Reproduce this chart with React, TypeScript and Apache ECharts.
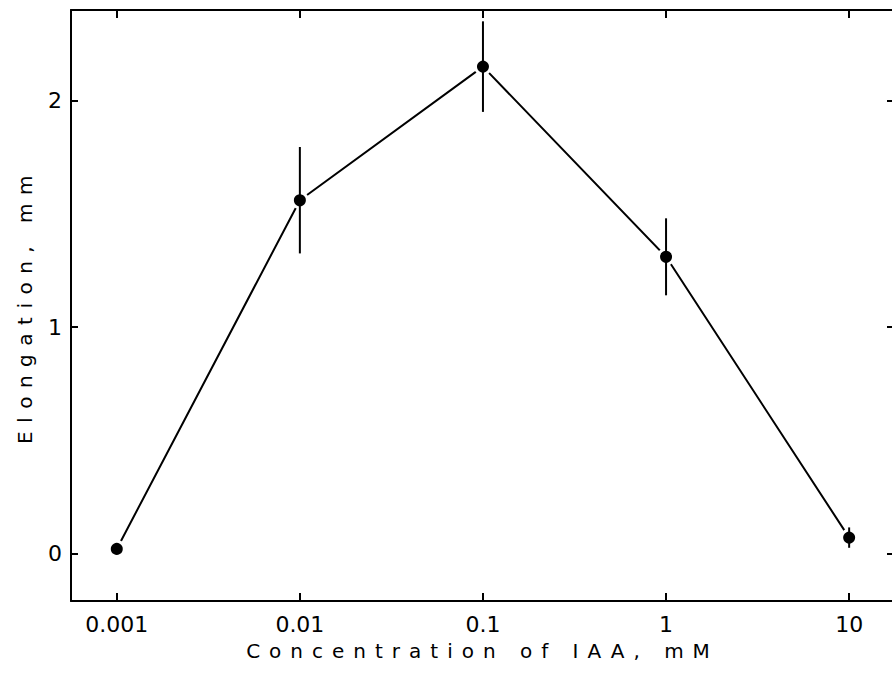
import React, { useEffect, useRef } from "react";
import * as echarts from "echarts";

const concentrations = [0.001, 0.01, 0.1, 1, 10];
const elongation = [0.02, 1.56, 2.15, 1.31, 0.07];
const errorBar = [0, 0.235, 0.2, 0.17, 0.045];
const xTickValues = [0.001, 0.01, 0.1, 1, 10];
const xTickLabels = ["0.001", "0.01", "0.1", "1", "10"];
const yTickValues = [0, 1, 2];
const yTickLabels = ["0", "1", "2"];
const xName = "Concentration of IAA, mM";
const yName = "Elongation, mm";

const FONT = "DejaVu Sans";

export default function App() {
  const ref = useRef<HTMLDivElement>(null);

  useEffect(() => {
    if (!ref.current) return;
    const chart = echarts.init(ref.current, null, { renderer: "svg" });
    const xTicksLog = xTickValues.map((v) => Math.log10(v));
    const fmtX = (v: number) => {
      const i = xTicksLog.findIndex((t) => Math.abs(t - v) < 1e-6);
      return i >= 0 ? xTickLabels[i] : "";
    };
    const fmtY = (v: number) => {
      const i = yTickValues.findIndex((t) => Math.abs(t - v) < 1e-6);
      return i >= 0 ? yTickLabels[i] : "";
    };
    const axisLine = { show: true, onZero: false, lineStyle: { color: "#000", width: 2 } };
    const tickX = { show: true, inside: true, length: 8, customValues: xTicksLog, lineStyle: { color: "#000", width: 2 } };
    const tickY = { show: true, inside: true, length: 7, customValues: yTickValues, lineStyle: { color: "#000", width: 2 } };
    const xMin = -3.25;
    const xMax = 1.245;
    const yMin = -0.21;
    const yMax = 2.4;

    chart.setOption({
      animation: false,
      backgroundColor: "#fff",
      grid: { left: 71, right: 2, top: 10, bottom: 82 },
      xAxis: [
        {
          type: "value",
          position: "bottom",
          min: xMin,
          max: xMax,
          axisLine,
          axisTick: tickX,
          splitLine: { show: false },
          axisLabel: {
            customValues: xTicksLog,
            formatter: fmtX,
            color: "#000",
            fontFamily: FONT,
            fontSize: 22,
            margin: 12,
          },
          name: xName,
          nameLocation: "middle",
          nameGap: 40,
          nameTextStyle: { color: "#000", fontFamily: FONT, fontSize: 20 },
        },
        {
          type: "value",
          position: "top",
          min: xMin,
          max: xMax,
          axisLine,
          axisTick: tickX,
          splitLine: { show: false },
          axisLabel: { show: false },
        },
      ],
      yAxis: [
        {
          type: "value",
          position: "left",
          min: yMin,
          max: yMax,
          axisLine,
          axisTick: tickY,
          splitLine: { show: false },
          axisLabel: {
            customValues: yTickValues,
            formatter: fmtY,
            color: "#000",
            fontFamily: FONT,
            fontSize: 22,
            margin: 9,
          },
          name: yName,
          nameLocation: "middle",
          nameGap: 36,
          nameTextStyle: { color: "#000", fontFamily: FONT, fontSize: 20 },
        },
        {
          type: "value",
          position: "right",
          min: yMin,
          max: yMax,
          axisLine,
          axisTick: tickY,
          splitLine: { show: false },
          axisLabel: { show: false },
        },
      ],
      series: [
        {
          type: "line",
          data: concentrations.map((c, i) => [Math.log10(c), elongation[i]]),
          symbol: "circle",
          symbolSize: 15,
          itemStyle: { color: "#000", borderColor: "#fff", borderWidth: 3 },
          lineStyle: { color: "#000", width: 2 },
          z: 2,
        },
        {
          type: "custom",
          data: concentrations.map((c, i) => [
            Math.log10(c),
            elongation[i] - errorBar[i],
            elongation[i] + errorBar[i],
          ]),
          encode: { x: 0, y: [1, 2] },
          renderItem: (params: any, api: any) => {
            const lo = api.coord([api.value(0), api.value(1)]);
            const hi = api.coord([api.value(0), api.value(2)]);
            return {
              type: "line",
              shape: { x1: lo[0], y1: lo[1], x2: hi[0], y2: hi[1] },
              style: { stroke: "#000", lineWidth: 2 },
            };
          },
          z: 5,
        },
      ],
    });

    const svg = ref.current.querySelector("svg");
    if (svg) {
      svg.querySelectorAll("text").forEach((t) => {
        if (t.textContent === xName) t.setAttribute("letter-spacing", "9");
        if (t.textContent === yName) t.setAttribute("letter-spacing", "8.5");
      });
    }

    return () => chart.dispose();
  }, []);

  return (
    <div
      style={{
        position: "fixed",
        left: 0,
        top: 0,
        width: 892,
        height: 683,
        overflow: "hidden",
        background: "#fff",
      }}
    >
      <div ref={ref} style={{ width: 896, height: 683 }} />
    </div>
  );
}
